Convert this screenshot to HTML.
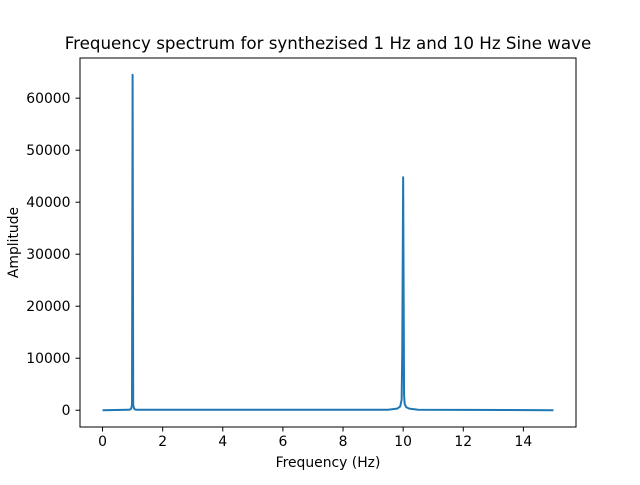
<!DOCTYPE html>
<html><head><meta charset="utf-8"><style>
body{margin:0;background:#fff;font-family:"Liberation Sans","DejaVu Sans",sans-serif;}
svg text{font-family:"DejaVu Sans","Liberation Sans",sans-serif;}
</style></head><body>
<svg id="chart" width="640" height="480" viewBox="0 0 640 480">
<rect width="640" height="480" fill="#fff"/>
<text x="328" y="49" text-anchor="middle" font-size="16.7px">Frequency spectrum for synthezised 1 Hz and 10 Hz Sine wave</text>
<g id="plot"></g>
<rect x="80" y="58" width="496" height="369" fill="none" stroke="#000" stroke-width="1"/>
<text x="328" y="467" text-anchor="middle" font-size="13.9px">Frequency (Hz)</text>
<text transform="translate(18,242.5) rotate(-90)" text-anchor="middle" font-size="13.9px">Amplitude</text>
</svg>
<script>
const freqs=[0,0.9,0.95,0.98,1.0,1.02,1.05,1.1,9.5,9.8,9.9,9.95,9.97,10.0,10.03,10.05,10.1,10.2,10.5,15];
const amps=[0,100,300,1000,64500,1000,300,100,100,300,700,2000,11000,44800,3000,1200,600,300,100,0];
const xTicks=[0,2,4,6,8,10,12,14];
const yTicks=[0,10000,20000,30000,40000,50000,60000];
const xMin=-0.75,xMax=15.75,yMin=-3225,yMax=67725;
const L=80,R=576,T=58,B=427;
const sx=v=>L+(v-xMin)/(xMax-xMin)*(R-L);
const sy=v=>B-(v-yMin)/(yMax-yMin)*(B-T);
const ns="http://www.w3.org/2000/svg";
const g=document.getElementById('plot');
function mk(t,a){const e=document.createElementNS(ns,t);for(const k in a)e.setAttribute(k,a[k]);g.appendChild(e);return e;}
xTicks.forEach(v=>{
 const l=mk('line',{x1:sx(v),x2:sx(v),y1:B,y2:B+4.5,stroke:'#000'});
 
 
 const t=mk('text',{x:sx(v),y:B+19,'text-anchor':'middle','font-size':'13.9px'});
 t.textContent=v;
 
 
});
yTicks.forEach(v=>{
 const l=mk('line',{x1:L-4.5,x2:L,y1:sy(v),y2:sy(v),stroke:'#000'});
 
 
 const t=mk('text',{x:L-9.5,y:sy(v)+5,'text-anchor':'end','font-size':'13.9px'});
 t.textContent=v;
 
 
});
const p=mk('polyline',{points:freqs.map((f,i)=>sx(f)+','+sy(amps[i])).join(' '),fill:'none',stroke:'#1f77b4','stroke-width':2,'stroke-linejoin':'round'});


</script>
</body></html>
